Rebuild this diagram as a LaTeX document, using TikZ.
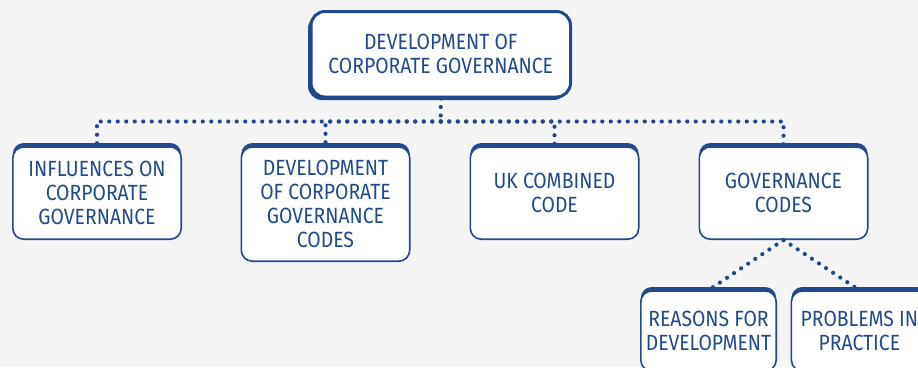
\documentclass[tikz,border=0pt]{standalone}
\usepackage{fontspec}
\setsansfont{Fira Sans}[FakeStretch=0.88]
\usetikzlibrary{positioning}
\definecolor{govblue}{RGB}{33,73,140}
\definecolor{pagegrey}{RGB}{244,244,244}

\begin{document}
\begin{tikzpicture}[x=1pt,y=-1pt,
    every node/.style={font=\sffamily\fontsize{22}{24}\selectfont, text=govblue, align=center},
    mainbox/.style={draw=govblue, line width=3pt, fill=white, rounded corners=14pt,
        minimum width=259.5pt, minimum height=85.5pt,
        preaction={fill=govblue, transform canvas={xshift=-3pt, yshift=-3pt}}},
    topicbox/.style={draw=govblue, line width=1.6pt, fill=white, rounded corners=11pt,
        minimum width=168.4pt, minimum height=92.2pt,
        preaction={fill=govblue, transform canvas={yshift=4pt}}},
    dotline/.style={govblue, line width=4.2pt, line cap=round, dash pattern=on 0pt off 8.5pt}]

    \fill[pagegrey] (0,0) rectangle (918,367);
    \useasboundingbox (0,0) rectangle (918,367);

    % top of the tree
    \node[mainbox] (dev) at (440.75,54.25) {DEVELOPMENT OF\\CORPORATE GOVERNANCE};
    \coordinate[yshift=-23pt] (bus) at (dev.south);

    % second row
    \node[topicbox] (infl) at (97,193.1) {INFLUENCES ON\\CORPORATE\\GOVERNANCE};
    \node[topicbox, minimum height=114.2pt] (devc) at (325.5,204.1) {DEVELOPMENT\\OF CORPORATE\\GOVERNANCE\\CODES};
    \node[topicbox] (ukcc) at (554.5,193.1) {UK COMBINED\\CODE};
    \node[topicbox] (govc) at (783.5,193.1) {GOVERNANCE\\CODES};

    % third row
    \node[topicbox, minimum width=135.4pt, minimum height=80pt] (reas) at (708.5,331) {REASONS FOR\\DEVELOPMENT};
    \node[topicbox, minimum width=136pt, minimum height=80pt, right=13.6pt of reas] (prob) {PROBLEMS IN\\PRACTICE};

    \draw[dotline] (dev.south) -- (bus);
    \draw[dotline] (bus) -| (infl.north);
    \draw[dotline] (bus) -| (devc.north);
    \draw[dotline] (bus) -| (ukcc.north);
    \draw[dotline] (bus) -| (govc.north);
    \draw[dotline] (govc.south) -- (reas.north);
    \draw[dotline] (govc.south) -- (prob.north);
\end{tikzpicture}
\end{document}
